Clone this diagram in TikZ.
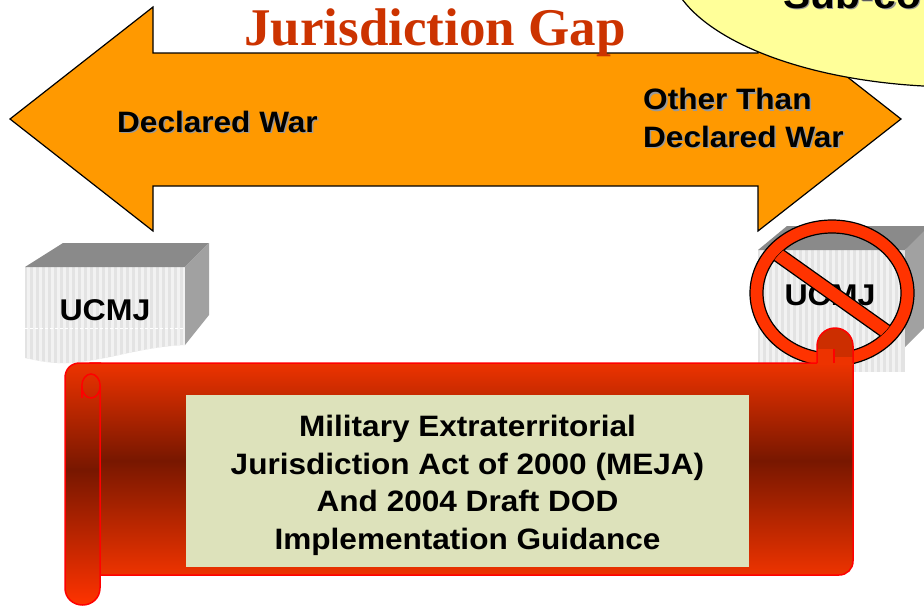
\documentclass[tikz,border=0pt]{standalone}
\usepackage{fontspec}
\setmainfont{Liberation Sans}
\newfontfamily\titlefont{Liberation Serif}
\newfontfamily\labelfont{Liberation Sans}[FakeStretch=1.07]
\definecolor{corange}{rgb}{1, 0.6, 0}
\definecolor{ctitle}{rgb}{0.8, 0.2, 0}
\definecolor{cyellow}{rgb}{1, 1, 0.6}
\definecolor{cpanel}{rgb}{0.867, 0.886, 0.733}
\definecolor{cbright}{rgb}{0.93, 0.2, 0}
\definecolor{cdark}{rgb}{0.47, 0.09, 0}
\definecolor{cstop}{rgb}{1, 0.2, 0}
\definecolor{ccurl}{rgb}{0.8, 0.18, 0}
\definecolor{cshadow}{rgb}{0.6, 0.6, 0.6}
\definecolor{cfront}{rgb}{0.89, 0.89, 0.89}
\definecolor{cstripe}{rgb}{0.95, 0.95, 0.95}
\definecolor{ctop}{rgb}{0.54, 0.54, 0.54}
\definecolor{cside}{rgb}{0.63, 0.63, 0.63}
\pgfdeclareverticalshading{scrollbody}{100bp}{color(0bp)=(cbright); color(25bp)=(cbright); color(52bp)=(cdark); color(75bp)=(cbright); color(100bp)=(cbright)}
\pgfdeclareverticalshading{scrollrod}{100bp}{color(0bp)=(cstop); color(25bp)=(cstop); color(53bp)=(cdark); color(75bp)=(cbright); color(100bp)=(cbright)}

\begin{document}
\begin{tikzpicture}[x=1pt,y=-1pt,
  outline/.style={draw=black,line width=1.2pt},
  scroll line/.style={draw=red,line width=1.5pt},
  big text/.style={font=\labelfont\bfseries\fontsize{29.5}{37.5}\selectfont,inner sep=0pt},
  shadow text/.style={big text,text=cshadow},
  box text/.style={font=\labelfont\bfseries\fontsize{30}{36}\selectfont,inner sep=0pt,anchor=base}]
  \useasboundingbox (0,0) rectangle (924,606);
  \clip (0,0) rectangle (924,606);

  % double arrow
  \draw[outline,fill=corange] (10,119) -- (153,7) -- (153,53) -- (758,53) -- (758,7) -- (901,119)
    -- (758,231) -- (758,186) -- (153,186) -- (153,231) -- cycle;
  \node[font=\titlefont\bfseries\fontsize{53}{60}\selectfont,text=ctitle,inner sep=0pt,anchor=base]
    (title) at (435,45) {Jurisdiction Gap};

  % callout
  \draw[outline,fill=cyellow] (960,-40) ellipse [x radius=292,y radius=127];
  \node[font=\labelfont\bfseries\fontsize{38}{44}\selectfont,text=cshadow,inner sep=0pt,anchor=base west]
    at (784.5,9.5) {Sub-co};
  \node[font=\labelfont\bfseries\fontsize{38}{44}\selectfont,inner sep=0pt,anchor=base west]
    (subco) at (783,8) {Sub-co};

  \node[shadow text,anchor=base west] at (118.5,133.5) {Declared War};
  \node[big text,anchor=base west] (declared) at (117,132) {Declared War};
  \node[shadow text,anchor=north west,align=left] at (644.5,89.5) {Other Than\\Declared War};
  \node[big text,anchor=north west,align=left] (other) at (643,88) {Other Than\\Declared War};

  % left UCMJ block
  \begin{scope}
    \clip (25,267) -- (185,267) -- (185,345) .. controls (140,347) and (110,360) .. (70,363)
      .. controls (50,364) and (35,360) .. (25,358) -- cycle;
    \fill[cfront] (25,260) rectangle (185,370);
    \foreach \x in {27,33,...,183}
      \fill[cstripe] (\x,260) rectangle ++(3,110);
    \draw[white,line width=1pt,dash pattern=on 3pt off 2pt] (25,328) -- (185,328);
  \end{scope}
  \fill[ctop] (25,267) -- (63,243) -- (209,243) -- (185,267) -- cycle;
  \fill[cside] (185,267) -- (209,243) -- (209,315) -- (185,345) -- cycle;
  \node[box text] (ucmj left) at (105,320) {UCMJ};

  % right UCMJ block
  \begin{scope}
    \clip (758,250) rectangle (905,372);
    \fill[cfront] (758,250) rectangle (905,372);
    \foreach \x in {760,766,...,902}
      \fill[cstripe] (\x,250) rectangle ++(3,122);
  \end{scope}
  \fill[ctop] (758,250) -- (787,226) -- (935,226) -- (905,250) -- cycle;
  \fill[cside] (905,250) -- (929,226) -- (929,323) -- (905,347) -- cycle;
  \node[box text] (ucmj right) at (830,305) {UCMJ};

  % no sign
  \draw[outline,fill=cstop,even odd rule] (832,293) ellipse [x radius=82,y radius=73]
    (832,293) ellipse [x radius=69,y radius=60];
  \begin{scope}
    \clip (832,293) ellipse [x radius=69,y radius=60];
    \fill[cstop] (746.45,240.8) -- (909.45,356.6) -- (917.55,345.2) -- (754.55,229.4) -- cycle;
    \draw[black,line width=1.2pt] (746.45,240.8) -- (909.45,356.6) (917.55,345.2) -- (754.55,229.4);
  \end{scope}

  % scroll
  \shadedraw[shading=scrollbody,scroll line] (90,363) -- (853,363) -- (853,561)
    .. controls (853,569) and (847,575) .. (839,575) -- (90,575) -- cycle;
  \begin{scope}
    \clip (817,365) -- (817,346) .. controls (817,336) and (825,328) .. (835,328)
      .. controls (845,328) and (853,336) .. (853,346) -- (853,365) -- cycle;
    \fill[cbright] (815,326) rectangle (855,366);
    \fill[ccurl] (815,326) rectangle (855,357);
    \fill[cbright] (815,349) rectangle (834,366);
  \end{scope}
  \draw[scroll line] (817,363) -- (817,346) .. controls (817,336) and (825,328) .. (835,328)
    .. controls (845,328) and (853,336) .. (853,346) -- (853,363);
  \draw[scroll line] (834,363) -- (834,349);
  \shade[shading=scrollrod] (65,378) .. controls (65,369) and (71,363) .. (80,363) -- (100,363)
    -- (100,588) .. controls (100,598) and (92,605) .. (82.5,605)
    .. controls (73,605) and (65,598) .. (65,588) -- cycle;
  \draw[scroll line] (100,386) -- (100,588) .. controls (100,598) and (92,605) .. (82.5,605)
    .. controls (73,605) and (65,598) .. (65,588) -- (65,378)
    .. controls (65,369) and (71,363) .. (80,363) -- (101,363);
  \draw[scroll line] (91,386) ellipse [x radius=9.2,y radius=12];
  \draw[scroll line] (81.8,386) -- (81.8,398);

  \fill[cpanel] (186,395) rectangle (749,567);
  \node[big text,align=center] (meja) at (467.5,485.5)
    {Military Extraterritorial\\Jurisdiction Act of 2000 (MEJA)\\And 2004 Draft DOD\\Implementation Guidance};
\end{tikzpicture}
\end{document}
